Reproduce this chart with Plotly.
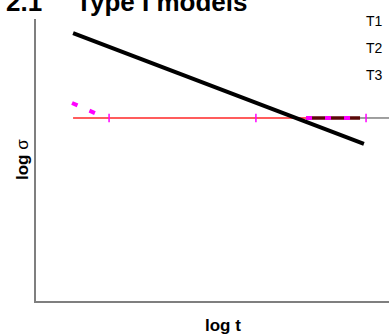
import plotly.graph_objects as go

# data (log t, log sigma) in arbitrary axis units 0..10
t1_x = [1.05, 9.29]
t1_y = [9.50, 5.57]

t2_x = [1.05, 7.65]
t2_y = [6.49, 6.49]

t3_slant_x = [1.02, 1.73]
t3_slant_y = [7.02, 6.63]

t3_flat_x = [7.65, 9.18]
t3_flat_y = [6.49, 6.49]

tail_x = [9.18, 10.0]
tail_y = [6.49, 6.49]

tick_x = [2.07, 6.23, 9.35]
tick_y = [6.49, 6.49, 6.49]

legend_labels = ["T1", "T2", "T3"]

fig = go.Figure()
fig.add_trace(go.Scatter(x=tail_x, y=tail_y, mode="lines",
                         line=dict(color="#808080", width=1.5)))
fig.add_trace(go.Scatter(x=t2_x, y=t2_y, mode="lines",
                         line=dict(color="#ff5c5c", width=2)))
fig.add_trace(go.Scatter(x=t3_flat_x, y=t3_flat_y, mode="lines",
                         line=dict(color="#5a0808", width=3.5)))
fig.add_trace(go.Scatter(x=t3_flat_x, y=t3_flat_y, mode="lines",
                         line=dict(color="#ff00ff", width=4, dash="6px,13px")))
fig.add_trace(go.Scatter(x=t3_slant_x, y=t3_slant_y, mode="lines",
                         line=dict(color="#ff00ff", width=4, dash="6px,13px")))
fig.add_trace(go.Scatter(x=tick_x, y=tick_y, mode="markers",
                         marker=dict(symbol="line-ns", size=6,
                                     line=dict(color="#ff00ff", width=1.5))))
fig.add_trace(go.Scatter(x=t1_x, y=t1_y, mode="lines",
                         line=dict(color="#000000", width=4)))

annotations = []
for i, lab in enumerate(legend_labels):
    annotations.append(dict(
        xref="paper", yref="paper",
        x=(364 - 36) / 353, y=(301 - (21 + 27 * i)) / 282,
        xanchor="left", yanchor="middle", showarrow=False,
        text=lab, font=dict(family="Liberation Sans", size=14, color="#000")))

annotations.append(dict(
    xref="paper", yref="paper", x=(223 - 36) / 353, y=(301 - 325) / 282,
    xanchor="center", yanchor="middle", showarrow=False,
    text="<b>log t</b>", font=dict(family="Liberation Sans", size=17, color="#000")))
annotations.append(dict(
    xref="paper", yref="paper", x=(22 - 36) / 353, y=(301 - 160) / 282,
    xanchor="center", yanchor="middle", showarrow=False, textangle=-90,
    text="<b>log</b> σ", font=dict(family="Liberation Sans", size=17, color="#000")))
annotations.append(dict(
    xref="paper", yref="paper", x=(4 - 36) / 353, y=(301 - 2) / 282,
    xanchor="left", yanchor="middle", showarrow=False,
    text="<b>2.1</b>", font=dict(family="Liberation Sans", size=26, color="#000")))
annotations.append(dict(
    xref="paper", yref="paper", x=(74 - 36) / 353, y=(301 - 2) / 282,
    xanchor="left", yanchor="middle", showarrow=False,
    text="<b>Type I models</b>", font=dict(family="Liberation Sans", size=26, color="#000")))

fig.update_layout(
    width=389, height=334,
    margin=dict(l=36, r=0, t=19, b=33),
    paper_bgcolor="white", plot_bgcolor="white",
    showlegend=False,
    annotations=annotations,
    xaxis=dict(range=[0, 10], showgrid=False, zeroline=False, showticklabels=False,
               ticks="", showline=True, linecolor="#7f7f7f", linewidth=1.5),
    yaxis=dict(range=[0, 10], showgrid=False, zeroline=False, showticklabels=False,
               ticks="", showline=True, linecolor="#7f7f7f", linewidth=1.5),
)

fig.write_html("out.html", config={"displayModeBar": False},
               post_script="document.body.style.margin='0';document.body.style.overflow='hidden';")
